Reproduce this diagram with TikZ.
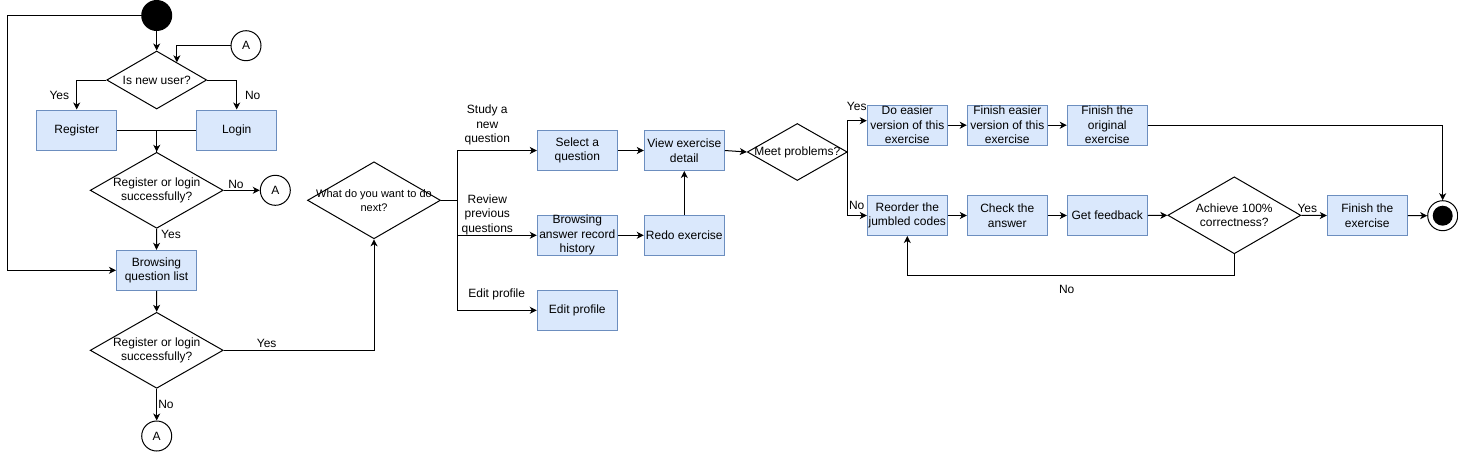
\documentclass[tikz,border=0pt]{standalone}
\usepackage{fontspec}
\setmainfont{Liberation Sans}
\usetikzlibrary{shapes.geometric,arrows.meta,calc}
\definecolor{boxfill}{HTML}{DAE8FC}
\definecolor{boxstroke}{HTML}{6C8EBF}
\begin{document}
\begin{tikzpicture}[x=1pt,y=-1pt,
  font=\fontsize{12}{14.5}\selectfont,
  box/.style={draw=boxstroke, fill=boxfill, minimum width=80pt, minimum height=40pt, inner sep=0pt, align=center, line width=1pt},
  dia/.style={draw=black, shape=diamond, inner sep=0pt, fill=white, line width=1pt},
  conn/.style={circle, draw=black, fill=white, minimum size=30pt, inner sep=0pt, line width=1pt},
  arr/.style={-{Stealth[length=7pt,width=7pt,inset=2pt]}, line width=1pt},
  ln/.style={line width=1pt},
  lbl/.style={inner sep=0pt, align=center}
]
\useasboundingbox (0,0) rectangle (1458,453);

% nodes
\node[circle, fill=black, minimum size=31pt, inner sep=0pt] (start) at (156.7,15.5) {};
\node[dia, minimum width=100pt, minimum height=58pt, label={[lbl]center:Is new user?}] (d1) at (156.7,80) {};
\node[conn] (A1) at (246,45.7) {A};
\node[box] (reg) at (76.7,130) {Register};
\node[box] (login) at (236.7,130) {Login};
\node[dia, minimum width=133pt, minimum height=76pt, label={[lbl]center:Register or login\\successfully?}] (d2) at (156.7,190.3) {};
\node[conn] (A2) at (275.3,190.3) {A};
\node[box] (browse) at (156.5,270.3) {Browsing\\question list};
\node[dia, minimum width=133pt, minimum height=76pt, label={[lbl]center:Register or login\\successfully?}] (d3) at (156.7,350.3) {};
\node[conn] (A3) at (156.7,436) {A};
\node[dia, minimum width=133pt, minimum height=77pt, label={[lbl, font=\fontsize{11}{14}\selectfont]center:What do you want to do\\next?}] (what) at (374,200.3) {};

\node[box] (sel) at (577.3,150.5) {Select a\\question};
\node[box] (view) at (684.3,150.5) {View exercise\\detail};
\node[box] (hist) at (577.3,235.3) {Browsing\\answer record\\history};
\node[box] (redo) at (684.3,235.3) {Redo exercise};
\node[box] (edit) at (577.3,310.3) {Edit profile};

\node[dia, minimum width=100pt, minimum height=57pt, label={[lbl]center:Meet problems?}] (meet) at (797.3,152) {};
\node[box] (easy) at (907.3,125.2) {Do easier\\version of this\\exercise};
\node[box] (fineasy) at (1007.3,125.2) {Finish easier\\version of this\\exercise};
\node[box] (finorig) at (1107.3,125.2) {Finish the\\original\\exercise};
\node[box] (reo) at (907.3,215.5) {Reorder the\\jumbled codes};
\node[box] (check) at (1007.3,215.5) {Check the\\answer};
\node[box] (fb) at (1107.3,215.5) {Get feedback};
\node[dia, minimum width=133pt, minimum height=77pt, label={[lbl]center:Achieve 100\%\\correctness?}] (ach) at (1234.3,215.3) {};
\node[box] (finex) at (1367.3,215.5) {Finish the\\exercise};
\node[conn] (end) at (1442.7,215.7) {};
\node[circle, fill=black, minimum size=20pt, inner sep=0pt] (endin) at (end) {};

% connectors
\coordinate (lc) at (7,15.5);
\draw[arr] (start.west) -- (lc) |- (browse.west);
\draw[arr] (start.south) -- (d1.north);
\draw[arr] (A1.west) -| ($(d1.north)!0.4!(d1.east)$);
\draw[arr] (d1.west) -| (reg.north);
\draw[arr] (d1.east) -| (login.north);
\draw[arr] (reg.east) -| (d2.north);
\draw[ln] (login.west) -| (d2.north);
\draw[arr] (d2.east) -- (A2.west);
\draw[arr] (d2.south) -- (browse.north);
\draw[arr] (browse.south) -- (d3.north);
\draw[arr] (d3.south) -- (A3.north);
\draw[arr] (d3.east) -| (what.south);

\coordinate (brk) at (457.3,200.3);
\draw[arr] (what.east) -- (brk) |- (sel.west);
\draw[arr] (brk) |- (hist.west);
\draw[arr] (brk) |- (edit.west);
\draw[arr] (sel) -- (view);
\draw[arr] (hist) -- (redo);
\draw[arr] (redo) -- (view);
\draw[arr] (view.east) -- (meet.west);

\draw[arr] (meet.east) |- ([yshift=4.5pt]easy.west);
\draw[arr] (meet.east) |- (reo.west);
\draw[arr] (easy) -- (fineasy);
\draw[arr] (fineasy) -- (finorig);
\draw[arr] (finorig.east) -| (end.north);
\draw[arr] (reo) -- (check);
\draw[arr] (check) -- (fb);
\draw[arr] (fb.east) -- (ach.west);
\draw[arr] (ach.east) -- (finex.west);
\draw[arr] (finex.east) -- (end.west);
\draw[arr] (ach.south) -- ++(0,21) -| (reo.south);

% labels
\node[lbl] (l1) at (59.3,95) {Yes};
\node[lbl] (l2) at (252.7,95) {No};
\node[lbl] (l3) at (236,184) {No};
\node[lbl] (l4) at (171,234.3) {Yes};
\node[lbl] (l5) at (166,404.3) {No};
\node[lbl] (l6) at (266.7,343.3) {Yes};
\node[lbl] (l7) at (487.3,125.3) {Study a\\new\\question};
\node[lbl] (l8) at (487.3,214.7) {Review\\previous\\questions};
\node[lbl] (l9) at (496.7,294.3) {Edit profile};
\node[lbl] (l10) at (856.7,106.7) {Yes};
\node[lbl] (l11) at (856.7,205) {No};
\node[lbl] (l12) at (1307.3,208.3) {Yes};
\node[lbl] (l13) at (1066.7,289) {No};
\end{tikzpicture}
\end{document}
